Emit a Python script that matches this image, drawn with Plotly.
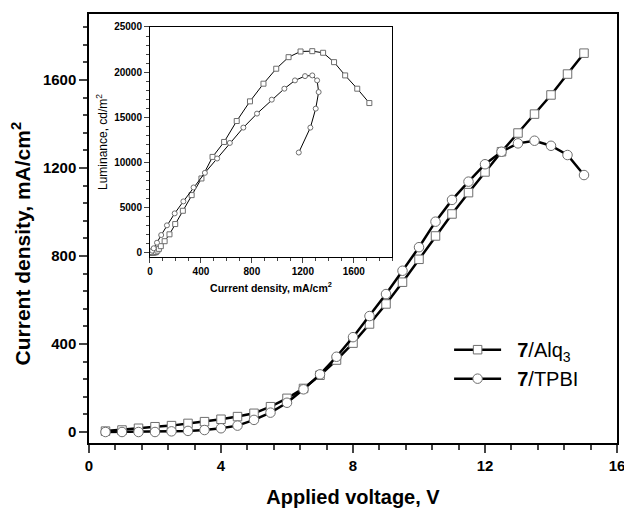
import plotly.graph_objects as go

# Applied voltage (V)
voltage = [0.5, 1.0, 1.5, 2.0, 2.5, 3.0, 3.5, 4.0, 4.5, 5.0,
           5.5, 6.0, 6.5, 7.0, 7.5, 8.0, 8.5, 9.0, 9.5, 10.0,
           10.5, 11.0, 11.5, 12.0, 12.5, 13.0, 13.5, 14.0, 14.5, 15.0]

# Current density (mA/cm2)
j_alq3 = [4, 9, 17, 24, 29, 39, 47, 58, 70, 85,
          115, 153, 198, 258, 327, 404, 491, 582, 681, 785,
          891, 991, 1088, 1182, 1274, 1359, 1445, 1532, 1627, 1722]
j_tpbi = [0, 0, 0, 0, 3, 5, 9, 17, 29, 55,
          88, 133, 194, 262, 342, 431, 527, 627, 733, 840,
          956, 1055, 1138, 1217, 1274, 1312, 1324, 1301, 1259, 1168]

# Luminance (cd/m2)
lum_alq3 = [0, 0, 0, 0, 0, 0, 50, 200, 400, 700,
            1250, 2013, 3152, 4623, 6360, 8206, 10596, 12254, 14577, 16756,
            18714, 20373, 21656, 22286, 22320, 22142, 21103, 19631, 18160, 16568]
lum_tpbi = [0, 0, 0, 0, 0, 0, 30, 200, 464, 1084,
            1936, 3008, 4335, 5663, 7211, 8826, 10418, 12144, 13846, 15396,
            16944, 18161, 19079, 19554, 19631, 19079, 17785, 15948, 13846, 11082]

names = ["\u00a0\u00a0<b>7</b>/Alq<sub>3</sub>", "\u00a0\u00a0<b>7</b>/TPBI"]

FONT = "Liberation Sans, Arial, sans-serif"
EDGE = "#6e6e6e"

fig = go.Figure()

# main plot
fig.add_trace(go.Scatter(
    x=voltage, y=j_alq3, mode="lines+markers", name=names[0],
    line=dict(color="black", width=2.5),
    marker=dict(symbol="square", size=8.5, color="white", line=dict(color=EDGE, width=1)),
    legendgroup="a", xaxis="x", yaxis="y"))
fig.add_trace(go.Scatter(
    x=voltage, y=j_tpbi, mode="lines+markers", name=names[1],
    line=dict(color="black", width=2.5),
    marker=dict(symbol="circle", size=9.5, color="white", line=dict(color=EDGE, width=1)),
    legendgroup="b", xaxis="x", yaxis="y"))

# inset
fig.add_trace(go.Scatter(
    x=j_alq3, y=lum_alq3, mode="lines+markers", showlegend=False,
    line=dict(color="black", width=1),
    marker=dict(symbol="square", size=5, color="white", line=dict(color=EDGE, width=1)),
    xaxis="x2", yaxis="y2"))
fig.add_trace(go.Scatter(
    x=j_tpbi, y=lum_tpbi, mode="lines+markers", showlegend=False,
    line=dict(color="black", width=1),
    marker=dict(symbol="circle", size=5, color="white", line=dict(color=EDGE, width=1)),
    xaxis="x2", yaxis="y2"))

bold_tick = dict(family=FONT, size=15, color="black", weight="bold")
inset_tick = dict(family=FONT, size=10, color="black", weight="bold")

fig.update_layout(
    width=624, height=510,
    margin=dict(l=89, r=7, t=14, b=67),
    paper_bgcolor="white", plot_bgcolor="white",
    font=dict(family=FONT, color="black"),
    xaxis=dict(
        range=[0, 16], tick0=0, dtick=4, ticks="outside", ticklen=8, tickwidth=1.5,
        showline=True, linewidth=1.5, linecolor="black", mirror=True,
        showgrid=False, zeroline=False, tickfont=bold_tick, automargin=False,
        ticklabeloverflow="allow",
        minor=dict(dtick=0.8, ticks="outside", ticklen=5, tickwidth=1.5, showgrid=False),
        title=dict(text="Applied voltage, V", standoff=17,
                   font=dict(family=FONT, size=20, color="black", weight="bold")),
    ),
    yaxis=dict(
        range=[-50, 1900], tick0=0, dtick=400, ticks="outside", ticklen=8, tickwidth=1.5,
        showline=True, linewidth=1.5, linecolor="black", mirror=True,
        showgrid=False, zeroline=False, tickfont=bold_tick, automargin=False,
        minor=dict(dtick=80, ticks="outside", ticklen=4, tickwidth=1.5, showgrid=False),
    ),
    xaxis2=dict(
        domain=[0.1155, 0.5739], anchor="y2", automargin=False,
        range=[0, 1900], tick0=0, dtick=400, ticks="outside", ticklen=5, tickwidth=1,
        showline=True, linewidth=1, linecolor="black", mirror=True,
        showgrid=False, zeroline=False, tickfont=inset_tick,
        minor=dict(dtick=100, ticks="outside", ticklen=3, tickwidth=1, showgrid=False),
        title=dict(text="Current density, mA/cm<sup>2</sup>", standoff=8,
                   font=dict(family=FONT, size=10.5, color="black", weight="bold")),
    ),
    yaxis2=dict(
        domain=[0.4336, 0.9697], anchor="x2", automargin=False,
        range=[-500, 25000], tick0=0, dtick=5000, ticks="outside", ticklen=5, tickwidth=1,
        showline=True, linewidth=1, linecolor="black", mirror=True,
        showgrid=False, zeroline=False, tickfont=inset_tick,
        exponentformat="none", separatethousands=False, tickformat="d",
        minor=dict(dtick=1000, ticks="outside", ticklen=3, tickwidth=1, showgrid=False),
        title=dict(text="Luminance, cd/m<sup>2</sup>", standoff=3,
                   font=dict(family=FONT, size=12, color="black")),
    ),
    legend=dict(
        x=0.682, y=0.263, xanchor="left", yanchor="top",
        bgcolor="rgba(0,0,0,0)", borderwidth=0,
        font=dict(family=FONT, size=20, color="black"),
        itemwidth=47, tracegroupgap=4, traceorder="normal",
    ),
    annotations=[dict(
        text="Current density, mA/cm<sup>2</sup>", textangle=-90,
        xref="paper", yref="paper", x=-0.129, y=0.465,
        xanchor="center", yanchor="middle", showarrow=False,
        font=dict(family=FONT, size=21, color="black", weight="bold"),
    )],
)

fig.write_html("out.html")
